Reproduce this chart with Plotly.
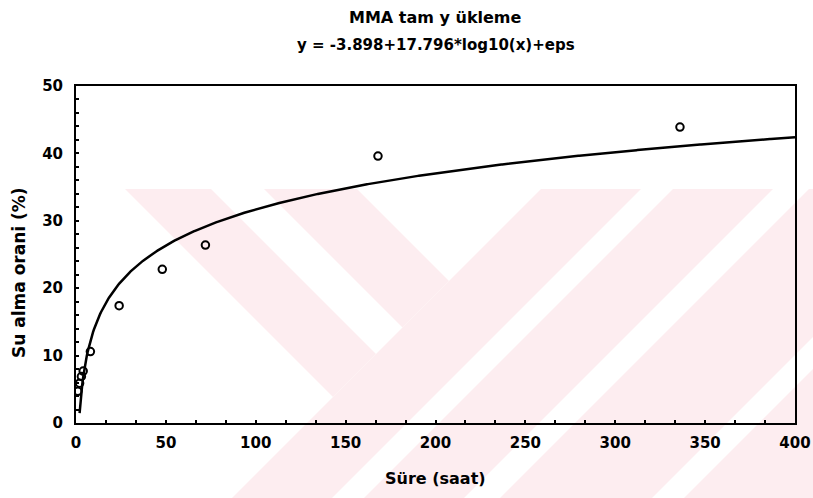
import numpy as np
import plotly.graph_objects as go

# Measured water uptake of MMA under full loading
hours = [1, 2, 3, 4, 8, 24, 48, 72, 168, 336]
uptake_pct = [4.7, 5.9, 6.9, 7.7, 10.6, 17.4, 22.8, 26.4, 39.6, 43.9]

# Fitted model y = a + b*log10(x)
fit_a = -3.898
fit_b = 17.796
fit_x_min, fit_x_max = 2.0, 400.0

x_ticks = [0, 50, 100, 150, 200, 250, 300, 350, 400]
y_ticks = [0, 10, 20, 30, 40, 50]

title_text = "MMA tam y ükleme"
subtitle_text = "y = -3.898+17.796*log10(x)+eps"
x_title = "Süre (saat)"
y_title = "Su alma orani (%)"

W, H = 813, 498
L, R, T, B = 76, 18, 86, 75
PW, PH = W - L - R, H - T - B

fit_x = np.linspace(fit_x_min, fit_x_max, 800)
fit_y = fit_a + fit_b * np.log10(fit_x)

FONT = "DejaVu Sans"


def to_paper(px, py):
    return (px - L) / PW, (H - B - py) / PH


def poly_path(points):
    pts = [to_paper(px, py) for px, py in points]
    return "M " + " L ".join(f"{x:.5f},{y:.5f}" for x, y in pts) + " Z"


# Background emblem: diagonal pink bands (u = x + y, v = x - y in pixels)
TOP = 189
BOT = 500


def band_u(u0, u1):
    return [(u0 - TOP, TOP), (u1 - TOP, TOP), (u1 - BOT, BOT), (u0 - BOT, BOT)]


emblem = [
    [(125, 189), (211, 189), (376, 354), (333, 397)],
    [(264, 189), (357, 189), (449, 281), (402.5, 327.5)],
    band_u(730, 830),
    band_u(862, 962),
    band_u(998, 1150),
    band_u(1182, 1330),
]

shapes = [
    dict(type="path", path=poly_path(p), xref="paper", yref="paper",
         fillcolor="#fdedf0", line=dict(width=0), layer="below")
    for p in emblem
]

fig = go.Figure()
fig.add_trace(go.Scatter(
    x=fit_x, y=fit_y, mode="lines",
    line=dict(color="black", width=2.5), hoverinfo="skip", showlegend=False,
))
fig.add_trace(go.Scatter(
    x=hours, y=uptake_pct, mode="markers",
    marker=dict(symbol="circle-open", size=7.5, color="black", line=dict(width=2)),
    showlegend=False,
))

axis_common = dict(
    showgrid=False, zeroline=False, showline=True, mirror=True,
    linecolor="black", linewidth=2, automargin=False,
    ticks="inside", ticklen=3, tickcolor="black", tickwidth=1.5,
    tickfont=dict(family=FONT, size=15, color="black", weight="bold"),
)

fig.update_xaxes(range=[0, 400], tickvals=x_ticks,
                 minor=dict(ticks="inside", ticklen=3, dtick=50 / 3, tickcolor="black"),
                 ticklabelstandoff=5, **axis_common)
fig.update_yaxes(range=[0, 50], tickvals=y_ticks,
                 minor=dict(ticks="inside", ticklen=3, dtick=2, tickcolor="black"),
                 ticklabelstandoff=8, **axis_common)

fig.update_layout(
    width=W, height=H,
    margin=dict(l=L, r=R, t=T, b=B, autoexpand=False),
    paper_bgcolor="white", plot_bgcolor="rgba(0,0,0,0)",
    shapes=shapes,
    annotations=[
        dict(text=title_text, xref="paper", yref="paper", x=0.5, y=to_paper(0, 18)[1],
             showarrow=False, xanchor="center", yanchor="middle",
             font=dict(family=FONT, size=16, color="black", weight="bold")),
        dict(text=subtitle_text, xref="paper", yref="paper", x=0.5, y=to_paper(0, 45)[1],
             showarrow=False, xanchor="center", yanchor="middle",
             font=dict(family=FONT, size=15, color="black", weight="bold")),
        dict(text=x_title, xref="paper", yref="paper", x=0.5, y=to_paper(0, 478)[1],
             showarrow=False, xanchor="center", yanchor="middle",
             font=dict(family=FONT, size=16, color="black", weight="bold")),
        dict(text=y_title, xref="paper", yref="paper", x=to_paper(19, 0)[0], y=to_paper(0, 273)[1],
             showarrow=False, xanchor="center", yanchor="middle", textangle=-90,
             font=dict(family=FONT, size=17, color="black", weight="bold")),
    ],
)

fig.write_html("out.html")
